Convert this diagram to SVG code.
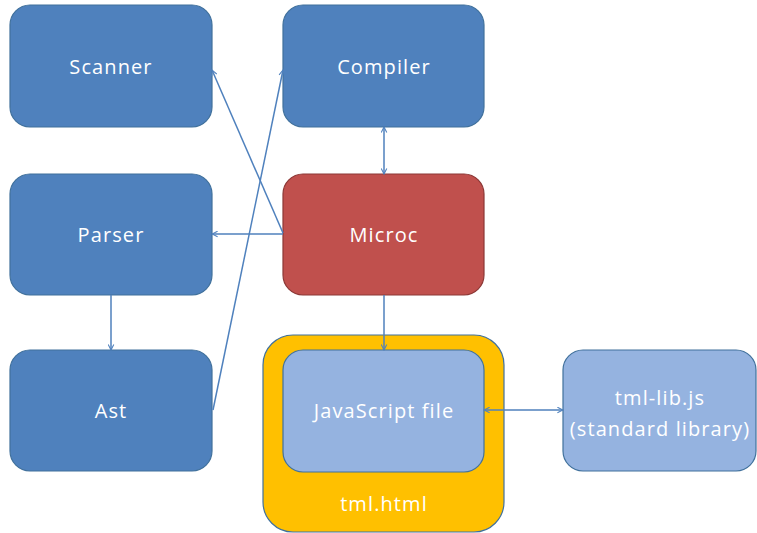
<svg xmlns="http://www.w3.org/2000/svg" width="757" height="533" viewBox="0 0 757 533">
<style>
.box{fill:#4F81BD;stroke:#41719C;stroke-width:1.2}
.red{fill:#C0504D;stroke:#8C3836;stroke-width:1.2}
.light{fill:#95B3E0;stroke:#41719C;stroke-width:1.2}
.yel{fill:#FFC000;stroke:#41719C;stroke-width:1.2}
text{font-family:"Open Sans","Noto Sans","Liberation Sans",sans-serif;font-size:20px;letter-spacing:1.1px;fill:#FFFFFF;text-anchor:middle;dominant-baseline:central}
.c{fill:none;stroke:#4F81BD;stroke-width:1.5}
</style>
<defs>
<marker id="ah" viewBox="0 0 10 10" refX="9" refY="5" markerWidth="7" markerHeight="7" orient="auto-start-reverse" markerUnits="userSpaceOnUse">
<path d="M1,1 L9,5 L1,9" fill="none" stroke="#4F81BD" stroke-width="1.5"/>
</marker>
</defs>
<g id="scanner"><rect class="box" x="10" y="5" width="202" height="122" rx="20"/><text x="111" y="66">Scanner</text></g>
<g id="compiler"><rect class="box" x="283" y="5" width="201" height="122" rx="20"/><text x="384" y="66">Compiler</text></g>
<g id="parser"><rect class="box" x="10" y="174" width="202" height="121" rx="20"/><text x="111" y="234">Parser</text></g>
<g id="microc"><rect class="red" x="283" y="174" width="201" height="121" rx="20"/><text x="384" y="234">Microc</text></g>
<g id="ast"><rect class="box" x="10" y="350" width="202" height="121" rx="20"/><text x="111" y="410">Ast</text></g>
<g id="tmlhtml"><rect class="yel" x="263" y="335" width="241" height="197" rx="30"/><text x="384" y="503">tml.html</text></g>
<g id="jsfile"><rect class="light" x="283" y="350" width="201" height="122" rx="20"/><text x="384" y="410">JavaScript file</text></g>
<g id="tmllib"><rect class="light" x="563" y="350" width="193" height="121" rx="20"/><text x="660" y="397">tml-lib.js</text><text x="660" y="428">(standard library)</text></g>
<g id="connectors">
<line class="c" x1="283" y1="233" x2="212" y2="70" marker-end="url(#ah)"/>
<line class="c" x1="283" y1="234" x2="212" y2="234" marker-end="url(#ah)"/>
<line class="c" x1="213" y1="410" x2="283" y2="70" marker-end="url(#ah)"/>
<line class="c" x1="384" y1="127" x2="384" y2="174" marker-start="url(#ah)" marker-end="url(#ah)"/>
<line class="c" x1="111" y1="295" x2="111" y2="350" marker-end="url(#ah)"/>
<line class="c" x1="384" y1="295" x2="384" y2="350" marker-end="url(#ah)"/>
<line class="c" x1="484" y1="410" x2="563" y2="410" marker-start="url(#ah)" marker-end="url(#ah)"/>
</g>
</svg>
